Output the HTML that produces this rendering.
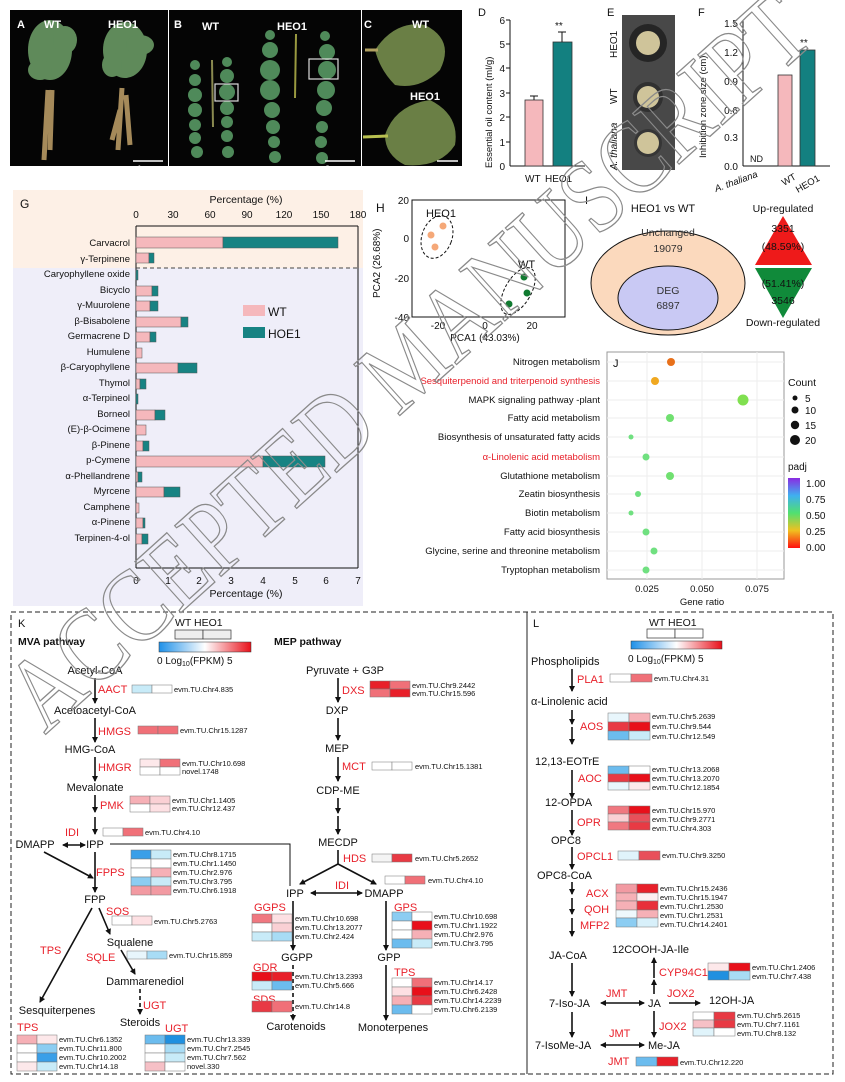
<!DOCTYPE html>
<html><head><meta charset="utf-8"><style>
html,body{margin:0;padding:0;background:#fff;}
svg{display:block;font-family:"Liberation Sans",Arial,sans-serif;}
.n{font-size:11px;fill:#111;}
.g{font-size:7.5px;fill:#111;}
.e{font-size:11px;fill:#e8202a;}
.t{font-size:10px;fill:#111;}
</style></head><body>
<svg width="845" height="1082" viewBox="0 0 845 1082" xmlns="http://www.w3.org/2000/svg">
<defs>
<marker id="ah" markerWidth="6" markerHeight="6" refX="5" refY="3" orient="auto" markerUnits="userSpaceOnUse"><path d="M0,0 L6,3 L0,6 z" fill="#111"/></marker>
<marker id="as" markerWidth="6" markerHeight="6" refX="1" refY="3" orient="auto" markerUnits="userSpaceOnUse"><path d="M6,0 L0,3 L6,6 z" fill="#111"/></marker>
<linearGradient id="hg" x1="0" x2="1"><stop offset="0" stop-color="#1e90e8"/><stop offset=".5" stop-color="#ffffff"/><stop offset="1" stop-color="#e8101a"/></linearGradient>
<linearGradient id="pg" x1="0" y1="0" x2="0" y2="1"><stop offset="0" stop-color="#8a2be2"/><stop offset=".25" stop-color="#3fb0f0"/><stop offset=".5" stop-color="#50e070"/><stop offset=".75" stop-color="#f0c020"/><stop offset="1" stop-color="#ff1010"/></linearGradient>
</defs>

<!-- A -->
<rect x="10" y="10" width="158" height="156" fill="#050505"/>
<g fill="#5f8a5a">
<ellipse cx="50" cy="50" rx="22" ry="30"/><ellipse cx="40" cy="70" rx="12" ry="10"/><ellipse cx="65" cy="40" rx="12" ry="14"/>
<ellipse cx="125" cy="50" rx="22" ry="28"/><ellipse cx="140" cy="45" rx="14" ry="10"/><ellipse cx="112" cy="65" rx="10" ry="12"/>
</g>
<path d="M48,90 L44,160 M52,90 L50,150 M122,88 L118,150 M126,95 L130,145 M120,110 L112,140" stroke="#a58a5a" stroke-width="5" fill="none"/>
<text x="17" y="28" font-size="11" font-weight="bold" fill="#fff">A</text>
<text x="44" y="28" font-size="11" font-weight="bold" fill="#fff">WT</text>
<text x="108" y="28" font-size="11" font-weight="bold" fill="#fff">HEO1</text>
<line x1="133" y1="161" x2="163" y2="161" stroke="#fff" stroke-width="1.5"/>
<text x="136" y="172" font-size="9" font-weight="bold" fill="#fff">4 cm</text>
<!-- B -->
<rect x="169" y="10" width="192" height="156" fill="#050505"/>
<g fill="#4f8a5a">
<circle cx="195" cy="65" r="5"/><circle cx="195" cy="80" r="6"/><circle cx="195" cy="95" r="7"/><circle cx="195" cy="110" r="7"/><circle cx="195" cy="125" r="6"/><circle cx="195" cy="138" r="6"/><circle cx="197" cy="152" r="6"/>
<circle cx="227" cy="62" r="5"/><circle cx="227" cy="76" r="7"/><circle cx="227" cy="92" r="8"/><circle cx="227" cy="108" r="7"/><circle cx="227" cy="122" r="6"/><circle cx="227" cy="136" r="6"/><circle cx="228" cy="152" r="6"/>
<circle cx="270" cy="35" r="5"/><circle cx="270" cy="50" r="8"/><circle cx="270" cy="70" r="10"/><circle cx="270" cy="90" r="10"/><circle cx="272" cy="110" r="8"/><circle cx="273" cy="127" r="7"/><circle cx="274" cy="142" r="6"/><circle cx="275" cy="157" r="6"/>
<circle cx="325" cy="36" r="5"/><circle cx="327" cy="52" r="8"/><circle cx="327" cy="70" r="9"/><circle cx="326" cy="90" r="9"/><circle cx="324" cy="108" r="8"/><circle cx="322" cy="127" r="6"/><circle cx="321" cy="142" r="6"/><circle cx="322" cy="158" r="6"/>
</g>
<line x1="212" y1="60" x2="213" y2="127" stroke="#8a8a50" stroke-width="2"/>
<line x1="296" y1="34" x2="295" y2="98" stroke="#9a9a40" stroke-width="2"/>
<rect x="215" y="84" width="23" height="17" fill="none" stroke="#ddd" stroke-width="1.2"/>
<rect x="309" y="59" width="29" height="20" fill="none" stroke="#ddd" stroke-width="1.2"/>
<text x="174" y="28" font-size="11" font-weight="bold" fill="#fff">B</text>
<text x="202" y="30" font-size="11" font-weight="bold" fill="#fff">WT</text>
<text x="277" y="30" font-size="11" font-weight="bold" fill="#fff">HEO1</text>
<line x1="325" y1="161" x2="355" y2="161" stroke="#fff" stroke-width="1.5"/>
<text x="325" y="172" font-size="9" font-weight="bold" fill="#fff">3 cm</text>
<!-- C -->
<rect x="362" y="10" width="100" height="156" fill="#050505"/>
<path d="M375,50 Q395,20 425,25 Q455,40 440,70 Q420,90 395,85 Q380,70 375,50z" fill="#6a7f45"/>
<path d="M365,50 L378,50" stroke="#b0a060" stroke-width="3"/>
<path d="M385,135 Q395,105 430,100 Q460,115 455,145 Q440,168 405,165 Q385,155 385,135z" fill="#6a7f45"/>
<path d="M363,137 L388,136" stroke="#b8c050" stroke-width="3"/>
<text x="364" y="28" font-size="11" font-weight="bold" fill="#fff">C</text>
<text x="412" y="28" font-size="11" font-weight="bold" fill="#fff">WT</text>
<text x="410" y="100" font-size="11" font-weight="bold" fill="#fff">HEO1</text>
<line x1="437" y1="161" x2="458" y2="161" stroke="#fff" stroke-width="1.5"/>

<!-- D -->
<text x="478" y="16" font-size="11" fill="#111">D</text>
<line x1="510" y1="20" x2="510" y2="166" stroke="#111"/>
<line x1="510" y1="166" x2="585" y2="166" stroke="#111"/>
<g font-size="10" text-anchor="end" fill="#111">
<text x="505" y="24">6</text><text x="505" y="48">5</text><text x="505" y="72">4</text><text x="505" y="97">3</text><text x="505" y="121">2</text><text x="505" y="146">1</text><text x="505" y="170">0</text></g>
<g stroke="#111"><line x1="506" y1="20" x2="510" y2="20"/><line x1="506" y1="44" x2="510" y2="44"/><line x1="506" y1="68" x2="510" y2="68"/><line x1="506" y1="93" x2="510" y2="93"/><line x1="506" y1="117" x2="510" y2="117"/><line x1="506" y1="142" x2="510" y2="142"/></g>
<text transform="translate(492,168) rotate(-90)" font-size="9.5" fill="#111">Essential oil content (ml/g)</text>
<rect x="525" y="100" width="18" height="66" fill="#f5b8bc" stroke="#333" stroke-width=".8"/>
<rect x="553" y="42" width="19" height="124" fill="#138080" stroke="#333" stroke-width=".8"/>
<path d="M534,100 V96 M530,96 H538 M562,42 V32 M558,32 H566" stroke="#111"/>
<text x="555" y="29" font-size="10" fill="#111">**</text>
<text x="525" y="182" font-size="10" fill="#111">WT</text><text x="545" y="182" font-size="10" fill="#111">HEO1</text>
<!-- E -->
<text x="607" y="16" font-size="11" fill="#111">E</text>
<rect x="622" y="15" width="53" height="155" fill="#484848"/>
<circle cx="648" cy="43" r="19" fill="#252525"/><circle cx="648" cy="43" r="12" fill="#cfc49a"/>
<circle cx="648" cy="97" r="15" fill="#303030"/><circle cx="648" cy="97" r="11" fill="#cfc49a"/>
<circle cx="648" cy="143" r="14" fill="#363636"/><circle cx="648" cy="143" r="11" fill="#cfc49a"/>
<text transform="translate(617,58) rotate(-90)" font-size="10" fill="#111">HEO1</text>
<text transform="translate(617,104) rotate(-90)" font-size="10" fill="#111">WT</text>
<text transform="translate(617,170) rotate(-90)" font-size="10" font-style="italic" fill="#111">A. thaliana</text>
<!-- F -->
<text x="698" y="16" font-size="11" fill="#111">F</text>
<line x1="743" y1="20" x2="743" y2="166" stroke="#111"/>
<line x1="743" y1="166" x2="830" y2="166" stroke="#111"/>
<g font-size="10" text-anchor="end" fill="#111"><text x="738" y="27">1.5</text><text x="738" y="56">1.2</text><text x="738" y="85">0.9</text><text x="738" y="114">0.6</text><text x="738" y="141">0.3</text><text x="738" y="170">0.0</text></g>
<text transform="translate(706,158) rotate(-90)" font-size="9.5" fill="#111">Inhibition zone size (cm)</text>
<text x="750" y="162" font-size="9" fill="#111">ND</text>
<rect x="778" y="75" width="14" height="91" fill="#f5b8bc" stroke="#333" stroke-width=".8"/>
<rect x="800" y="50" width="15" height="116" fill="#138080" stroke="#333" stroke-width=".8"/>
<text x="800" y="46" font-size="10" fill="#111">**</text>
<text transform="translate(716,192) rotate(-20)" font-size="9.5" font-style="italic" fill="#111">A. thaliana</text>
<text transform="translate(784,186) rotate(-30)" font-size="9.5" fill="#111">WT</text>
<text transform="translate(798,193) rotate(-30)" font-size="9.5" fill="#111">HEO1</text>

<!-- G -->
<rect x="13" y="190" width="350" height="78" fill="#fdf0e6"/>
<rect x="13" y="268" width="350" height="338" fill="#efeef9"/>
<text x="20" y="208" font-size="12" fill="#111">G</text>
<text x="246" y="203" font-size="10.5" text-anchor="middle" fill="#111">Percentage (%)</text>
<g font-size="10" text-anchor="middle" fill="#111"><text x="136" y="218">0</text><text x="173" y="218">30</text><text x="210" y="218">60</text><text x="247" y="218">90</text><text x="284" y="218">120</text><text x="321" y="218">150</text><text x="358" y="218">180</text></g>
<line x1="136" y1="226" x2="358" y2="226" stroke="#111"/>
<line x1="136" y1="226" x2="136" y2="568" stroke="#111"/>
<line x1="358" y1="226" x2="358" y2="568" stroke="#111"/>
<line x1="136" y1="568" x2="358" y2="568" stroke="#111"/>
<line x1="136" y1="268" x2="358" y2="268" stroke="#444" stroke-dasharray="4,3"/>
<g font-size="10" text-anchor="middle" fill="#111"><text x="136" y="584">0</text><text x="168" y="584">1</text><text x="199" y="584">2</text><text x="231" y="584">3</text><text x="263" y="584">4</text><text x="295" y="584">5</text><text x="326" y="584">6</text><text x="358" y="584">7</text></g>
<text x="246" y="597" font-size="10.5" text-anchor="middle" fill="#111">Percentage (%)</text>
<g font-size="9.5" text-anchor="end" fill="#111">
<text x="130" y="246">Carvacrol</text><text x="130" y="262">γ-Terpinene</text><text x="130" y="277">Caryophyllene oxide</text><text x="130" y="293">Bicyclo</text><text x="130" y="308">γ-Muurolene</text><text x="130" y="324">β-Bisabolene</text><text x="130" y="339">Germacrene D</text><text x="130" y="355">Humulene</text><text x="130" y="370">β-Caryophyllene</text><text x="130" y="386">Thymol</text><text x="130" y="401">α-Terpineol</text><text x="130" y="417">Borneol</text><text x="130" y="432">(E)-β-Ocimene</text><text x="130" y="448">β-Pinene</text><text x="130" y="463">p-Cymene</text><text x="130" y="479">α-Phellandrene</text><text x="130" y="494">Myrcene</text><text x="130" y="510">Camphene</text><text x="130" y="525">α-Pinene</text><text x="130" y="541">Terpinen-4-ol</text></g>
<g stroke="#555" stroke-width=".5">
<rect x="136" y="237" width="87" height="11" fill="#f5b8bc"/><rect x="223" y="237" width="115" height="11" fill="#178383"/>
<rect x="136" y="253" width="13" height="10" fill="#f5b8bc"/><rect x="149" y="253" width="5" height="10" fill="#178383"/>
<rect x="136" y="270" width="2" height="10" fill="#178383"/>
<rect x="136" y="286" width="16" height="10" fill="#f5b8bc"/><rect x="152" y="286" width="6" height="10" fill="#178383"/>
<rect x="136" y="301" width="14" height="10" fill="#f5b8bc"/><rect x="150" y="301" width="8" height="10" fill="#178383"/>
<rect x="136" y="317" width="45" height="10" fill="#f5b8bc"/><rect x="181" y="317" width="7" height="10" fill="#178383"/>
<rect x="136" y="332" width="14" height="10" fill="#f5b8bc"/><rect x="150" y="332" width="6" height="10" fill="#178383"/>
<rect x="136" y="348" width="6" height="10" fill="#f5b8bc"/>
<rect x="136" y="363" width="42" height="10" fill="#f5b8bc"/><rect x="178" y="363" width="19" height="10" fill="#178383"/>
<rect x="136" y="379" width="4" height="10" fill="#f5b8bc"/><rect x="140" y="379" width="6" height="10" fill="#178383"/>
<rect x="136" y="394" width="2" height="10" fill="#178383"/>
<rect x="136" y="410" width="19" height="10" fill="#f5b8bc"/><rect x="155" y="410" width="10" height="10" fill="#178383"/>
<rect x="136" y="425" width="10" height="10" fill="#f5b8bc"/>
<rect x="136" y="441" width="7" height="10" fill="#f5b8bc"/><rect x="143" y="441" width="6" height="10" fill="#178383"/>
<rect x="136" y="456" width="127" height="11" fill="#f5b8bc"/><rect x="263" y="456" width="62" height="11" fill="#178383"/>
<rect x="136" y="472" width="2" height="10" fill="#f5b8bc"/><rect x="138" y="472" width="4" height="10" fill="#178383"/>
<rect x="136" y="487" width="28" height="10" fill="#f5b8bc"/><rect x="164" y="487" width="16" height="10" fill="#178383"/>
<rect x="136" y="503" width="3" height="10" fill="#f5b8bc"/>
<rect x="136" y="518" width="7" height="10" fill="#f5b8bc"/><rect x="143" y="518" width="2" height="10" fill="#178383"/>
<rect x="136" y="534" width="6" height="10" fill="#f5b8bc"/><rect x="142" y="534" width="6" height="10" fill="#178383"/>
</g>
<rect x="243" y="305" width="22" height="11" fill="#f5b8bc"/><text x="268" y="316" font-size="12" fill="#111">WT</text>
<rect x="243" y="327" width="22" height="11" fill="#178383"/><text x="268" y="338" font-size="12" fill="#111">HOE1</text>

<!-- H -->
<text x="376" y="212" font-size="12" fill="#111">H</text>
<rect x="412" y="200" width="153" height="117" fill="none" stroke="#111"/>
<g font-size="10" text-anchor="end" fill="#111"><text x="409" y="204">20</text><text x="409" y="242">0</text><text x="409" y="282">-20</text><text x="409" y="321">-40</text></g>
<g font-size="10" text-anchor="middle" fill="#111"><text x="438" y="329">-20</text><text x="485" y="329">0</text><text x="532" y="329">20</text></g>
<text x="485" y="341" font-size="10" text-anchor="middle" fill="#111">PCA1 (43.03%)</text>
<text transform="translate(380,298) rotate(-90)" font-size="10" fill="#111">PCA2 (26.68%)</text>
<text x="426" y="217" font-size="11" fill="#111">HEO1</text>
<ellipse cx="437" cy="237" rx="15" ry="22" transform="rotate(20 437 237)" fill="none" stroke="#111" stroke-dasharray="3,2"/>
<circle cx="443" cy="226" r="3.5" fill="#f5a878"/><circle cx="431" cy="235" r="3.5" fill="#f5a878"/><circle cx="435" cy="247" r="3.5" fill="#f5a878"/>
<text x="518" y="268" font-size="11" fill="#111">WT</text>
<ellipse cx="518" cy="291" rx="13" ry="26" transform="rotate(30 518 291)" fill="none" stroke="#111" stroke-dasharray="3,2"/>
<circle cx="524" cy="277" r="3.5" fill="#107a30"/><circle cx="527" cy="293" r="3.5" fill="#107a30"/><circle cx="509" cy="304" r="3.5" fill="#107a30"/>
<!-- I -->
<text x="585" y="204" font-size="11" fill="#111">I</text>
<text x="663" y="212" font-size="11" text-anchor="middle" fill="#111">HEO1 vs WT</text>
<ellipse cx="668" cy="283" rx="77" ry="52" fill="#fbd9bd" stroke="#111"/>
<ellipse cx="668" cy="298" rx="50" ry="32" fill="#c9c9f4" stroke="#111"/>
<g font-size="10.5" text-anchor="middle" fill="#333"><text x="668" y="236">Unchanged</text><text x="668" y="252">19079</text><text x="668" y="294">DEG</text><text x="668" y="309">6897</text></g>
<polygon points="783,216 755,265 812,265" fill="#ee1a1a"/>
<polygon points="755,268 812,268 783,318" fill="#108a3a"/>
<g font-size="10.5" text-anchor="middle" fill="#111"><text x="783" y="212">Up-regulated</text><text x="783" y="232">3351</text><text x="783" y="250">(48.59%)</text><text x="783" y="287">(51.41%)</text><text x="783" y="304">3546</text><text x="783" y="326">Down-regulated</text></g>

<!-- J -->
<rect x="607" y="352" width="177" height="227" fill="#fff" stroke="#999"/>
<g stroke="#eee"><line x1="647" y1="352" x2="647" y2="579"/><line x1="702" y1="352" x2="702" y2="579"/><line x1="757" y1="352" x2="757" y2="579"/>
<line x1="607" y1="362" x2="784" y2="362"/><line x1="607" y1="381" x2="784" y2="381"/><line x1="607" y1="400" x2="784" y2="400"/><line x1="607" y1="418" x2="784" y2="418"/><line x1="607" y1="437" x2="784" y2="437"/><line x1="607" y1="457" x2="784" y2="457"/><line x1="607" y1="476" x2="784" y2="476"/><line x1="607" y1="494" x2="784" y2="494"/><line x1="607" y1="513" x2="784" y2="513"/><line x1="607" y1="532" x2="784" y2="532"/><line x1="607" y1="551" x2="784" y2="551"/><line x1="607" y1="570" x2="784" y2="570"/></g>
<text x="613" y="367" font-size="11" fill="#111">J</text>
<g font-size="9.5" text-anchor="end" fill="#111">
<text x="600" y="365">Nitrogen metabolism</text><text x="600" y="384" fill="#e8202a">Sesquiterpenoid and triterpenoid synthesis</text><text x="600" y="403">MAPK signaling pathway -plant</text><text x="600" y="421">Fatty acid metabolism</text><text x="600" y="440">Biosynthesis of unsaturated fatty acids</text><text x="600" y="460" fill="#e8202a">α-Linolenic acid metabolism</text><text x="600" y="479">Glutathione metabolism</text><text x="600" y="497">Zeatin biosynthesis</text><text x="600" y="516">Biotin metabolism</text><text x="600" y="535">Fatty acid biosynthesis</text><text x="600" y="554">Glycine, serine and threonine metabolism</text><text x="600" y="573">Tryptophan metabolism</text></g>
<circle cx="671" cy="362" r="4" fill="#e8701a"/><circle cx="655" cy="381" r="4" fill="#f0a820"/><circle cx="743" cy="400" r="5.5" fill="#80e050"/><circle cx="670" cy="418" r="4" fill="#70e070"/><circle cx="631" cy="437" r="2.5" fill="#70e080"/><circle cx="646" cy="457" r="3.5" fill="#70e080"/><circle cx="670" cy="476" r="4" fill="#70e070"/><circle cx="638" cy="494" r="3" fill="#70e080"/><circle cx="631" cy="513" r="2.5" fill="#70e080"/><circle cx="646" cy="532" r="3.5" fill="#70e080"/><circle cx="654" cy="551" r="3.5" fill="#70e080"/><circle cx="646" cy="570" r="3.5" fill="#70e080"/>
<g font-size="9.5" text-anchor="middle" fill="#111"><text x="647" y="592">0.025</text><text x="702" y="592">0.050</text><text x="757" y="592">0.075</text><text x="702" y="605">Gene ratio</text></g>
<text x="788" y="386" font-size="10.5" fill="#111">Count</text>
<circle cx="795" cy="398" r="2.5" fill="#111"/><circle cx="795" cy="410" r="3.5" fill="#111"/><circle cx="795" cy="425" r="4.2" fill="#111"/><circle cx="795" cy="440" r="5" fill="#111"/>
<g font-size="10" fill="#111"><text x="805" y="402">5</text><text x="805" y="414">10</text><text x="805" y="429">15</text><text x="805" y="444">20</text><text x="788" y="470">padj</text><text x="806" y="487">1.00</text><text x="806" y="503">0.75</text><text x="806" y="519">0.50</text><text x="806" y="535">0.25</text><text x="806" y="551">0.00</text></g>
<rect x="788" y="478" width="12" height="70" fill="url(#pg)"/>

<!-- K and L boxes -->
<rect x="11" y="612" width="822" height="462" fill="none" stroke="#222" stroke-dasharray="5,3"/>
<line x1="527" y1="612" x2="527" y2="1074" stroke="#222"/>

<!-- K -->
<text x="18" y="627" font-size="11" fill="#111">K</text>
<text x="18" y="645" font-size="10.5" font-weight="bold" fill="#111">MVA pathway</text>
<text x="274" y="645" font-size="10.5" font-weight="bold" fill="#111">MEP pathway</text>
<text x="175" y="626" font-size="10.5" fill="#111">WT HEO1</text>
<rect x="175" y="630" width="28" height="9" fill="#eee" stroke="#333" stroke-width=".7"/><rect x="203" y="630" width="28" height="9" fill="#eee" stroke="#333" stroke-width=".7"/>
<rect x="159" y="642" width="92" height="10" fill="url(#hg)" stroke="#333" stroke-width=".5"/>
<text x="157" y="664" font-size="10" fill="#111">0 Log<tspan font-size="7" dy="2">10</tspan><tspan dy="-2">(FPKM)  5</tspan></text>

<g class="n" text-anchor="middle">
<text x="95" y="674">Acetyl-CoA</text><text x="95" y="714">Acetoacetyl-CoA</text><text x="90" y="753">HMG-CoA</text><text x="95" y="791">Mevalonate</text>
<text x="35" y="848">DMAPP</text><text x="95" y="848">IPP</text><text x="95" y="903">FPP</text><text x="130" y="946">Squalene</text><text x="145" y="985">Dammarenediol</text>
<text x="140" y="1026">Steroids</text><text x="57" y="1014">Sesquiterpenes</text>
<text x="345" y="674">Pyruvate + G3P</text><text x="337" y="714">DXP</text><text x="337" y="752">MEP</text><text x="338" y="794">CDP-ME</text><text x="338" y="846">MECDP</text>
<text x="295" y="897">IPP</text><text x="384" y="897">DMAPP</text><text x="297" y="961">GGPP</text><text x="389" y="961">GPP</text><text x="296" y="1030">Carotenoids</text><text x="393" y="1031">Monoterpenes</text></g>
<g class="e">
<text x="98" y="693">AACT</text><text x="98" y="735">HMGS</text><text x="98" y="771">HMGR</text><text x="100" y="809">PMK</text><text x="65" y="836">IDI</text><text x="96" y="876">FPPS</text><text x="106" y="915">SQS</text>
<text x="40" y="954">TPS</text><text x="86" y="961">SQLE</text><text x="143" y="1009">UGT</text><text x="165" y="1032">UGT</text><text x="17" y="1031">TPS</text>
<text x="342" y="694">DXS</text><text x="342" y="770">MCT</text><text x="343" y="862">HDS</text><text x="335" y="889">IDI</text>
<text x="254" y="911">GGPS</text><text x="253" y="971">GDR</text><text x="253" y="1003">SDS</text><text x="394" y="911">GPS</text><text x="394" y="976">TPS</text></g>

<g stroke="#111" stroke-width="1.6" fill="none" marker-end="url(#ah)">
<line x1="95" y1="678" x2="95" y2="703"/><line x1="95" y1="718" x2="95" y2="742"/><line x1="95" y1="757" x2="95" y2="781"/><line x1="95" y1="795" x2="95" y2="812"/><line x1="95" y1="817" x2="95" y2="834"/>
<line x1="95" y1="852" x2="95" y2="892"/><line x1="44" y1="852" x2="93" y2="878"/>
<line x1="92" y1="908" x2="40" y2="1002"/><line x1="99" y1="908" x2="110" y2="934"/><line x1="121" y1="950" x2="135" y2="974"/>
<line x1="338" y1="678" x2="338" y2="702"/><line x1="338" y1="718" x2="338" y2="740"/><line x1="338" y1="757" x2="338" y2="781"/><line x1="338" y1="798" x2="338" y2="813"/><line x1="338" y1="816" x2="338" y2="834"/>
<line x1="338" y1="864" x2="300" y2="884"/><line x1="338" y1="864" x2="376" y2="884"/>
<line x1="293" y1="901" x2="293" y2="950"/><line x1="386" y1="901" x2="386" y2="950"/><line x1="386" y1="965" x2="386" y2="1020"/>
</g>
<line x1="338" y1="850" x2="338" y2="864" stroke="#111" stroke-width="1.6"/>
<g stroke="#111" stroke-width="1.6" fill="none" marker-end="url(#ah)" stroke-dasharray="4,3">
<line x1="140" y1="989" x2="140" y2="1014"/><line x1="293" y1="965" x2="293" y2="1020"/></g>
<g stroke="#111" stroke-width="1.6" marker-end="url(#ah)" marker-start="url(#as)">
<line x1="63" y1="845" x2="85" y2="845"/><line x1="311" y1="893" x2="362" y2="893"/></g>
<polyline points="110,844 290,844 290,886" fill="none" stroke="#111" stroke-width="1"/>

<g stroke="#777" stroke-width=".5">
<!-- AACT --><rect x="132" y="685" width="20" height="8" fill="#c8ebf8"/><rect x="152" y="685" width="20" height="8" fill="#fff"/>
<!-- HMGS --><rect x="138" y="726" width="20" height="8" fill="#f07078"/><rect x="158" y="726" width="20" height="8" fill="#f07078"/>
<!-- HMGR --><rect x="140" y="759" width="20" height="8" fill="#fde8ea"/><rect x="160" y="759" width="20" height="8" fill="#f07078"/><rect x="140" y="767" width="20" height="8" fill="#fff"/><rect x="160" y="767" width="20" height="8" fill="#fff"/>
<!-- PMK --><rect x="130" y="796" width="20" height="8" fill="#f6b0b6"/><rect x="150" y="796" width="20" height="8" fill="#fad0d4"/><rect x="130" y="804" width="20" height="8" fill="#fff"/><rect x="150" y="804" width="20" height="8" fill="#fde0e3"/>
<!-- IDI --><rect x="103" y="828" width="20" height="8" fill="#fff"/><rect x="123" y="828" width="20" height="8" fill="#f07078"/>
<!-- FPPS --><rect x="131" y="850" width="20" height="9" fill="#3a9fe8"/><rect x="151" y="850" width="20" height="9" fill="#c8ebf8"/><rect x="131" y="859" width="20" height="9" fill="#fff"/><rect x="151" y="859" width="20" height="9" fill="#fff"/><rect x="131" y="868" width="20" height="9" fill="#fff"/><rect x="151" y="868" width="20" height="9" fill="#f6b0b6"/><rect x="131" y="877" width="20" height="9" fill="#8ccdf2"/><rect x="151" y="877" width="20" height="9" fill="#c8ebf8"/><rect x="131" y="886" width="20" height="9" fill="#f29aa2"/><rect x="151" y="886" width="20" height="9" fill="#f29aa2"/>
<!-- SQS --><rect x="112" y="916" width="20" height="9" fill="#fff"/><rect x="132" y="916" width="20" height="9" fill="#fde0e3"/>
<!-- SQLE --><rect x="127" y="951" width="20" height="8" fill="#e8f6fc"/><rect x="147" y="951" width="20" height="8" fill="#a8dcf5"/>
<!-- TPS K --><rect x="17" y="1035" width="20" height="9" fill="#f6b0b6"/><rect x="37" y="1035" width="20" height="9" fill="#fde8ea"/><rect x="17" y="1044" width="20" height="9" fill="#fff"/><rect x="37" y="1044" width="20" height="9" fill="#8ccdf2"/><rect x="17" y="1053" width="20" height="9" fill="#fff"/><rect x="37" y="1053" width="20" height="9" fill="#3a9fe8"/><rect x="17" y="1062" width="20" height="9" fill="#fde8ea"/><rect x="37" y="1062" width="20" height="9" fill="#c8ebf8"/>
<!-- UGT --><rect x="145" y="1035" width="20" height="9" fill="#6cbcee"/><rect x="165" y="1035" width="20" height="9" fill="#2090e0"/><rect x="145" y="1044" width="20" height="9" fill="#fff"/><rect x="165" y="1044" width="20" height="9" fill="#a8dcf5"/><rect x="145" y="1053" width="20" height="9" fill="#fff"/><rect x="165" y="1053" width="20" height="9" fill="#c8ebf8"/><rect x="145" y="1062" width="20" height="9" fill="#f6c0c6"/><rect x="165" y="1062" width="20" height="9" fill="#fff"/>
<!-- DXS --><rect x="370" y="681" width="20" height="8" fill="#e8202a"/><rect x="390" y="681" width="20" height="8" fill="#f07078"/><rect x="370" y="689" width="20" height="8" fill="#f07078"/><rect x="390" y="689" width="20" height="8" fill="#e8202a"/>
<!-- MCT --><rect x="372" y="762" width="20" height="8" fill="#fff"/><rect x="392" y="762" width="20" height="8" fill="#fff"/>
<!-- HDS --><rect x="372" y="854" width="20" height="8" fill="#f4f4f4"/><rect x="392" y="854" width="20" height="8" fill="#e83a44"/>
<!-- IDI r --><rect x="385" y="876" width="20" height="8" fill="#fff"/><rect x="405" y="876" width="20" height="8" fill="#f07078"/>
<!-- GGPS --><rect x="252" y="914" width="20" height="9" fill="#f07880"/><rect x="272" y="914" width="20" height="9" fill="#fde0e3"/><rect x="252" y="923" width="20" height="9" fill="#fff"/><rect x="272" y="923" width="20" height="9" fill="#fad0d4"/><rect x="252" y="932" width="20" height="9" fill="#c8ebf8"/><rect x="272" y="932" width="20" height="9" fill="#a8dcf5"/>
<!-- GDR --><rect x="252" y="972" width="20" height="9" fill="#e8101a"/><rect x="272" y="972" width="20" height="9" fill="#e8202a"/><rect x="252" y="981" width="20" height="9" fill="#c8ebf8"/><rect x="272" y="981" width="20" height="9" fill="#6cbcee"/>
<!-- SDS --><rect x="252" y="1001" width="20" height="11" fill="#e83a44"/><rect x="272" y="1001" width="20" height="11" fill="#f07078"/>
<!-- GPS --><rect x="392" y="912" width="20" height="9" fill="#8ccdf2"/><rect x="412" y="912" width="20" height="9" fill="#fff"/><rect x="392" y="921" width="20" height="9" fill="#fff"/><rect x="412" y="921" width="20" height="9" fill="#e8101a"/><rect x="392" y="930" width="20" height="9" fill="#fff"/><rect x="412" y="930" width="20" height="9" fill="#f6b0b6"/><rect x="392" y="939" width="20" height="9" fill="#6cbcee"/><rect x="412" y="939" width="20" height="9" fill="#c8ebf8"/>
<!-- TPS r --><rect x="392" y="978" width="20" height="9" fill="#fff"/><rect x="412" y="978" width="20" height="9" fill="#f07078"/><rect x="392" y="987" width="20" height="9" fill="#fde0e3"/><rect x="412" y="987" width="20" height="9" fill="#e8101a"/><rect x="392" y="996" width="20" height="9" fill="#f6b0b6"/><rect x="412" y="996" width="20" height="9" fill="#e83a44"/><rect x="392" y="1005" width="20" height="9" fill="#6cbcee"/><rect x="412" y="1005" width="20" height="9" fill="#fff"/>
</g>
<g class="g">
<text x="174" y="692">evm.TU.Chr4.835</text><text x="180" y="733">evm.TU.Chr15.1287</text><text x="182" y="766">evm.TU.Chr10.698</text><text x="182" y="774">novel.1748</text>
<text x="172" y="803">evm.TU.Chr1.1405</text><text x="172" y="811">evm.TU.Chr12.437</text><text x="145" y="835">evm.TU.Chr4.10</text>
<text x="173" y="857">evm.TU.Chr8.1715</text><text x="173" y="866">evm.TU.Chr1.1450</text><text x="173" y="875">evm.TU.Chr2.976</text><text x="173" y="884">evm.TU.Chr3.795</text><text x="173" y="893">evm.TU.Chr6.1918</text>
<text x="154" y="924">evm.TU.Chr5.2763</text><text x="169" y="958">evm.TU.Chr15.859</text>
<text x="59" y="1042">evm.TU.Chr6.1352</text><text x="59" y="1051">evm.TU.Chr11.800</text><text x="59" y="1060">evm.TU.Chr10.2002</text><text x="59" y="1069">evm.TU.Chr14.18</text>
<text x="187" y="1042">evm.TU.Chr13.339</text><text x="187" y="1051">evm.TU.Chr7.2545</text><text x="187" y="1060">evm.TU.Chr7.562</text><text x="187" y="1069">novel.330</text>
<text x="412" y="688">evm.TU.Chr9.2442</text><text x="412" y="696">evm.TU.Chr15.596</text><text x="415" y="769">evm.TU.Chr15.1381</text><text x="415" y="861">evm.TU.Chr5.2652</text><text x="428" y="883">evm.TU.Chr4.10</text>
<text x="295" y="921">evm.TU.Chr10.698</text><text x="295" y="930">evm.TU.Chr13.2077</text><text x="295" y="939">evm.TU.Chr2.424</text>
<text x="295" y="979">evm.TU.Chr13.2393</text><text x="295" y="988">evm.TU.Chr5.666</text><text x="295" y="1009">evm.TU.Chr14.8</text>
<text x="434" y="919">evm.TU.Chr10.698</text><text x="434" y="928">evm.TU.Chr1.1922</text><text x="434" y="937">evm.TU.Chr2.976</text><text x="434" y="946">evm.TU.Chr3.795</text>
<text x="434" y="985">evm.TU.Chr14.17</text><text x="434" y="994">evm.TU.Chr6.2428</text><text x="434" y="1003">evm.TU.Chr14.2239</text><text x="434" y="1012">evm.TU.Chr6.2139</text>
</g>

<!-- L -->
<text x="533" y="627" font-size="11" fill="#111">L</text>
<text x="649" y="626" font-size="10.5" fill="#111">WT HEO1</text>
<rect x="647" y="629" width="28" height="9" fill="#fff" stroke="#333" stroke-width=".7"/><rect x="675" y="629" width="28" height="9" fill="#fff" stroke="#333" stroke-width=".7"/>
<rect x="631" y="641" width="91" height="8" fill="url(#hg)" stroke="#333" stroke-width=".5"/>
<text x="628" y="662" font-size="10" fill="#111">0 Log<tspan font-size="7" dy="2">10</tspan><tspan dy="-2">(FPKM) 5</tspan></text>
<g class="n">
<text x="531" y="665">Phospholipids</text><text x="531" y="705">α-Linolenic acid</text><text x="535" y="765">12,13-EOTrE</text><text x="545" y="806">12-OPDA</text><text x="551" y="844">OPC8</text><text x="537" y="879">OPC8-CoA</text>
<text x="549" y="959">JA-CoA</text><text x="612" y="953">12COOH-JA-Ile</text><text x="549" y="1007">7-Iso-JA</text><text x="648" y="1007">JA</text><text x="709" y="1004">12OH-JA</text><text x="535" y="1049">7-IsoMe-JA</text><text x="648" y="1049">Me-JA</text></g>
<g class="e">
<text x="577" y="683">PLA1</text><text x="580" y="730">AOS</text><text x="578" y="782">AOC</text><text x="577" y="826">OPR</text><text x="577" y="860">OPCL1</text><text x="586" y="897">ACX</text><text x="584" y="913">QOH</text><text x="580" y="929">MFP2</text>
<text x="659" y="976">CYP94C1</text><text x="606" y="997">JMT</text><text x="667" y="997">JOX2</text><text x="659" y="1030">JOX2</text><text x="609" y="1037">JMT</text><text x="608" y="1065">JMT</text></g>
<g stroke="#111" stroke-width="1.6" fill="none" marker-end="url(#ah)">
<line x1="572" y1="669" x2="572" y2="691"/><line x1="572" y1="710" x2="572" y2="724"/><line x1="572" y1="727" x2="572" y2="744"/><line x1="572" y1="770" x2="572" y2="798"/><line x1="572" y1="810" x2="572" y2="835"/><line x1="572" y1="847" x2="572" y2="869"/>
<line x1="572" y1="882" x2="572" y2="894"/><line x1="572" y1="898" x2="572" y2="914"/><line x1="572" y1="918" x2="572" y2="936"/><line x1="572" y1="963" x2="572" y2="996"/><line x1="572" y1="1012" x2="572" y2="1037"/>
<line x1="669" y1="1003" x2="700" y2="1003"/><line x1="654" y1="994" x2="654" y2="980"/><line x1="654" y1="978" x2="654" y2="958"/><line x1="654" y1="1011" x2="654" y2="1037"/></g>
<g stroke="#111" stroke-width="1.6" marker-end="url(#ah)" marker-start="url(#as)">
<line x1="601" y1="1003" x2="644" y2="1003"/><line x1="601" y1="1045" x2="644" y2="1045"/></g>
<g stroke="#777" stroke-width=".5">
<rect x="610" y="674" width="21" height="8" fill="#fff"/><rect x="631" y="674" width="21" height="8" fill="#f07078"/>
<rect x="608" y="713" width="21" height="9" fill="#e8f6fc"/><rect x="629" y="713" width="21" height="9" fill="#f6b0b6"/><rect x="608" y="722" width="21" height="9" fill="#e83a44"/><rect x="629" y="722" width="21" height="9" fill="#e8101a"/><rect x="608" y="731" width="21" height="9" fill="#6cbcee"/><rect x="629" y="731" width="21" height="9" fill="#c8ebf8"/>
<rect x="608" y="766" width="21" height="8" fill="#6cbcee"/><rect x="629" y="766" width="21" height="8" fill="#fff"/><rect x="608" y="774" width="21" height="8" fill="#e83a44"/><rect x="629" y="774" width="21" height="8" fill="#e8101a"/><rect x="608" y="782" width="21" height="8" fill="#e8f6fc"/><rect x="629" y="782" width="21" height="8" fill="#fde8ea"/>
<rect x="608" y="806" width="21" height="8" fill="#f07880"/><rect x="629" y="806" width="21" height="8" fill="#e8101a"/><rect x="608" y="814" width="21" height="8" fill="#fad0d4"/><rect x="629" y="814" width="21" height="8" fill="#e8505a"/><rect x="608" y="822" width="21" height="8" fill="#f07880"/><rect x="629" y="822" width="21" height="8" fill="#e83a44"/>
<rect x="618" y="851" width="21" height="9" fill="#e0f4fb"/><rect x="639" y="851" width="21" height="9" fill="#e8505a"/>
<rect x="616" y="884" width="21" height="9" fill="#f29aa2"/><rect x="637" y="884" width="21" height="9" fill="#e8202a"/><rect x="616" y="893" width="21" height="8" fill="#f6b0b6"/><rect x="637" y="893" width="21" height="8" fill="#fdeef0"/><rect x="616" y="901" width="21" height="9" fill="#f6b0b6"/><rect x="637" y="901" width="21" height="9" fill="#e8303a"/><rect x="616" y="910" width="21" height="8" fill="#eef8fc"/><rect x="637" y="910" width="21" height="8" fill="#f6b0b6"/><rect x="616" y="918" width="21" height="9" fill="#8ccdf2"/><rect x="637" y="918" width="21" height="9" fill="#d8f0fa"/>
<rect x="708" y="963" width="21" height="8" fill="#fde8ea"/><rect x="729" y="963" width="21" height="8" fill="#e8101a"/><rect x="708" y="971" width="21" height="9" fill="#2090e0"/><rect x="729" y="971" width="21" height="9" fill="#a8dcf5"/>
<rect x="693" y="1012" width="21" height="8" fill="#fff"/><rect x="714" y="1012" width="21" height="8" fill="#e83a44"/><rect x="693" y="1020" width="21" height="8" fill="#f6c0c6"/><rect x="714" y="1020" width="21" height="8" fill="#e83a44"/><rect x="693" y="1028" width="21" height="8" fill="#e0f4fb"/><rect x="714" y="1028" width="21" height="8" fill="#fff"/>
<rect x="636" y="1057" width="21" height="9" fill="#6cbcee"/><rect x="657" y="1057" width="21" height="9" fill="#e8202a"/>
</g>
<g class="g">
<text x="654" y="681">evm.TU.Chr4.31</text>
<text x="652" y="719">evm.TU.Chr5.2639</text><text x="652" y="729">evm.TU.Chr9.544</text><text x="652" y="739">evm.TU.Chr12.549</text>
<text x="652" y="772">evm.TU.Chr13.2068</text><text x="652" y="781">evm.TU.Chr13.2070</text><text x="652" y="790">evm.TU.Chr12.1854</text>
<text x="652" y="813">evm.TU.Chr15.970</text><text x="652" y="822">evm.TU.Chr9.2771</text><text x="652" y="831">evm.TU.Chr4.303</text>
<text x="662" y="858">evm.TU.Chr9.3250</text>
<text x="660" y="891">evm.TU.Chr15.2436</text><text x="660" y="900">evm.TU.Chr15.1947</text><text x="660" y="909">evm.TU.Chr1.2530</text><text x="660" y="918">evm.TU.Chr1.2531</text><text x="660" y="927">evm.TU.Chr14.2401</text>
<text x="752" y="970">evm.TU.Chr1.2406</text><text x="752" y="979">evm.TU.Chr7.438</text>
<text x="737" y="1018">evm.TU.Chr5.2615</text><text x="737" y="1027">evm.TU.Chr7.1161</text><text x="737" y="1036">evm.TU.Chr8.132</text>
<text x="680" y="1065">evm.TU.Chr12.220</text>
</g>

<!-- watermark -->
<text transform="translate(45,735) rotate(-42)" font-family="Liberation Serif, serif" font-size="105" fill="none" stroke="#8a8a8a" stroke-width="1.3" textLength="1040" lengthAdjust="spacingAndGlyphs">ACCEPTED MANUSCRIPT</text>
</svg>
</body></html>
